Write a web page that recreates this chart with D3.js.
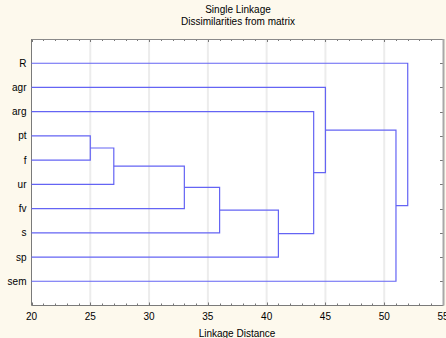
<!DOCTYPE html>
<html lang="en">
<head>
<meta charset="utf-8">
<title>Single Linkage tree</title>
<script src="https://cdn.jsdelivr.net/npm/d3@7"></script>
<style>
  body { margin: 0; background: #fdf9ed; }
  svg { display: block; }
  text { font-family: Arial, "Liberation Sans", sans-serif; font-size: 10px; fill: #000; }
</style>
</head>
<body>
<svg id="chart" width="446" height="338"></svg>
<script>
// leaf order top to bottom
var leaves = ["R", "agr", "arg", "pt", "f", "ur", "fv", "s", "sp", "sem"];
// merge k makes cluster "c"+(k+1)
var mergeA = ["pt", "c1", "c2", "c3", "c4", "arg", "agr", "c7", "R"];
var mergeB = ["f", "ur", "fv", "s", "sp", "c5", "c6", "sem", "c8"];
var mergeHeight = [25, 27, 33, 36, 41, 44, 45, 51, 52];
var xTicks = [20, 25, 30, 35, 40, 45, 50, 55];

var pLeft = 31.5, pRight = 443, pTop = 39, pBottom = 305.5;

var svg = d3.select('#chart');

var x = d3.scaleLinear().domain([20, 55]).range([pLeft, pRight]);
var y = d3.scalePoint().domain(leaves).range([pTop, pBottom]).padding(1);

// titles
svg.append('text').attr('x', 238).attr('y', 13).attr('text-anchor', 'middle').text('Single Linkage');
svg.append('text').attr('x', 238).attr('y', 25).attr('text-anchor', 'middle').text('Dissimilarities from matrix');

// plot area
svg.append('rect')
    .attr('x', pLeft).attr('y', pTop)
    .attr('width', pRight - pLeft).attr('height', pBottom - pTop)
    .attr('fill', '#fff');

// grid lines
svg.append('g').selectAll('line')
    .data(xTicks.slice(1, -1))
    .enter().append('line')
    .attr('x1', function(d) { return x(d); })
    .attr('x2', function(d) { return x(d); })
    .attr('y1', pTop).attr('y2', pBottom)
    .attr('stroke', '#ececec')
    .attr('stroke-width', 2);

// minor ticks top and bottom
var minor = d3.range(20, 56, 1);
var tk = svg.append('g').attr('stroke', '#777').attr('stroke-width', 1);
minor.forEach(function(v) {
    var len = (v % 5 == 0) ? 3 : 2;
    var px = Math.round(x(v)) + 0.5;
    tk.append('line').attr('x1', px).attr('x2', px).attr('y1', pTop).attr('y2', pTop + len);
    tk.append('line').attr('x1', px).attr('x2', px).attr('y1', pBottom).attr('y2', pBottom - len);
});
// right-side ticks at leaves
leaves.forEach(function(l) {
    var py = Math.round(y(l)) + 0.5;
    tk.append('line').attr('x1', pRight - 3).attr('x2', pRight).attr('y1', py).attr('y2', py);
});

// frame
svg.append('line').attr('x1', pLeft).attr('x2', pRight).attr('y1', pTop + 0.5).attr('y2', pTop + 0.5)
    .attr('stroke', '#8a8a8a');
svg.append('line').attr('x1', pLeft).attr('x2', pLeft).attr('y1', pTop).attr('y2', pBottom)
    .attr('stroke', '#7a7a7a');
svg.append('line').attr('x1', pLeft).attr('x2', pRight).attr('y1', pBottom).attr('y2', pBottom)
    .attr('stroke', '#7a7a7a');
svg.append('line').attr('x1', pRight + 0.5).attr('x2', pRight + 0.5).attr('y1', pTop).attr('y2', pBottom)
    .attr('stroke', '#a8a8a8').attr('stroke-width', 2);

// dendrogram
var nodes = {};
leaves.forEach(function(l) { nodes[l] = {h: 20, y: y(l)}; });
var tree = svg.append('g').attr('fill', 'none').attr('stroke', '#6464f4').attr('stroke-width', 1.2);
for (var k = 0; k < mergeHeight.length; k++) {
    var a = nodes[mergeA[k]], b = nodes[mergeB[k]], h = mergeHeight[k];
    tree.append('path')
        .attr('d', 'M' + x(a.h) + ',' + a.y + 'H' + x(h) + 'V' + b.y + 'H' + x(b.h));
    nodes['c' + (k + 1)] = {h: h, y: (a.y + b.y) / 2};
}

// leaf labels
svg.append('g').selectAll('text')
    .data(leaves)
    .enter().append('text')
    .attr('x', pLeft - 5)
    .attr('y', function(d) { return y(d) + 3.5; })
    .attr('text-anchor', 'end')
    .text(function(d) { return d; });

// x tick labels
svg.append('g').selectAll('text')
    .data(xTicks)
    .enter().append('text')
    .attr('x', function(d) { return x(d); })
    .attr('y', 320)
    .attr('text-anchor', 'middle')
    .text(function(d) { return d; });

svg.append('text').attr('x', 237).attr('y', 337).attr('text-anchor', 'middle').text('Linkage Distance');
</script>
</body>
</html>
